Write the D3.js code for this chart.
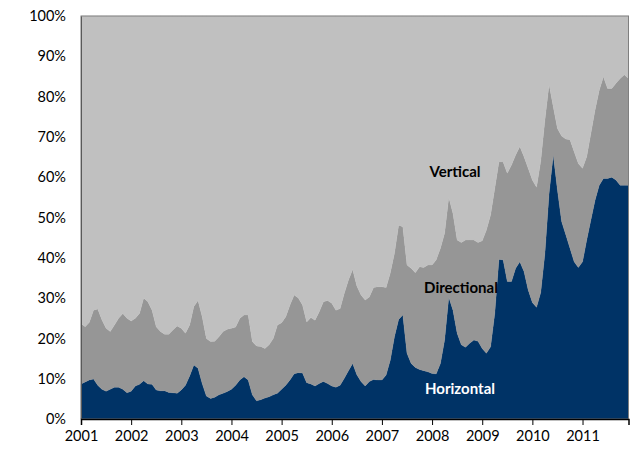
<!DOCTYPE html>
<html><head><meta charset="utf-8">
<script src="https://cdn.jsdelivr.net/npm/d3@7"></script>
<style>body{margin:0;background:#fff}svg{display:block}</style>
</head><body><svg id="c" width="632" height="455"></svg>
<script>
const years = ["2001","2002","2003","2004","2005","2006","2007","2008","2009","2010","2011"];
const seriesNames = ["Horizontal","Directional","Vertical"];
const yTicks = [0,0.1,0.2,0.3,0.4,0.5,0.6,0.7,0.8,0.9,1.0];
// monthly shares (%), Jan 2001 .. Dec 2011
const horizontal = [8.7,9.2,9.7,9.9,8.4,7.4,6.9,7.4,7.9,7.9,7.4,6.5,
6.9,8.2,8.6,9.5,8.7,8.6,7.2,7.0,7.0,6.6,6.5,6.4,
7.2,8.4,10.7,13.4,12.6,8.8,5.7,5.1,5.4,6.0,6.4,6.8,
7.4,8.4,9.7,10.5,9.7,6.0,4.5,4.8,5.2,5.5,6.0,6.4,
7.4,8.4,9.7,11.2,11.5,11.4,9.0,8.7,8.2,8.8,9.3,8.8,
8.2,7.9,8.4,10.1,12.0,13.8,11.0,9.3,8.2,9.3,9.8,9.7,
9.7,10.9,14.6,20.4,24.7,25.8,16.3,13.8,12.8,12.3,12.0,11.7,
11.3,11.2,13.8,19.6,30.2,27.0,21.3,18.4,17.8,18.8,19.6,19.3,
17.5,16.3,17.9,26.2,39.6,39.5,34.1,34.1,37.4,39.0,36.6,32.0,
28.9,27.7,31.4,41.1,56.0,65.5,56.8,49.0,45.7,42.4,39.0,37.6,
39.0,44.4,49.4,54.3,58.0,59.7,59.7,60.0,59.3,58.0,58.0,58.0];
const directional = [15.0,13.7,14.3,17.1,18.9,17.2,15.6,14.3,15.4,17.1,18.8,18.5,
17.4,16.8,17.6,20.5,20.4,18.4,15.7,14.7,14.0,14.4,15.6,16.7,
15.3,12.9,12.6,14.5,16.8,16.6,14.3,14.1,13.9,14.4,15.3,15.5,
15.1,14.4,15.3,15.3,16.1,13.2,13.6,13.2,12.3,12.9,14.0,16.9,
16.5,17.0,18.6,19.6,18.5,16.9,15.1,16.5,16.3,17.8,19.8,20.6,
20.5,19.1,19.0,21.1,22.5,23.3,22.0,21.5,21.3,21.0,22.8,23.1,
23.1,21.7,21.6,20.7,23.4,21.9,21.9,23.6,23.5,25.5,25.6,26.5,
26.9,28.3,28.6,26.5,24.8,24.0,23.1,25.4,26.6,25.6,24.8,24.5,
26.7,30.6,32.7,31.0,24.2,24.3,26.9,28.9,28.1,28.6,28.5,30.2,
30.4,29.8,32.6,33.1,27.0,12.0,15.3,21.2,23.8,26.9,27.3,25.8,
23.2,20.7,21.5,22.4,23.6,25.2,22.3,22.0,24.0,26.5,27.4,26.5];
const vertical = [76.3,77.1,76.0,73.0,72.7,75.4,77.5,78.3,76.7,75.0,73.8,75.0,
75.7,75.0,73.8,70.0,70.9,73.0,77.1,78.3,79.0,79.0,77.9,76.9,
77.5,78.7,76.7,72.1,70.6,74.6,80.0,80.8,80.7,79.6,78.3,77.7,
77.5,77.2,75.0,74.2,74.2,80.8,81.9,82.0,82.5,81.6,80.0,76.7,
76.1,74.6,71.7,69.2,70.0,71.7,75.9,74.8,75.5,73.4,70.9,70.6,
71.3,73.0,72.6,68.8,65.5,62.9,67.0,69.2,70.5,69.7,67.4,67.2,
67.2,67.4,63.8,58.9,51.9,52.3,61.8,62.6,63.7,62.2,62.4,61.8,
61.8,60.5,57.6,53.9,45.0,49.0,55.6,56.2,55.6,55.6,55.6,56.2,
55.8,53.1,49.4,42.8,36.2,36.2,39.0,37.0,34.5,32.4,34.9,37.8,
40.7,42.5,36.0,25.8,17.0,22.5,27.9,29.8,30.5,30.7,33.7,36.6,
37.8,34.9,29.1,23.3,18.4,15.1,18.0,18.0,16.7,15.5,14.6,15.5];
const colors = ["#003366","#969696","#C0C0C0"];

const table = horizontal.map((h,i)=>({i, Horizontal:h, Directional:directional[i], Vertical:vertical[i]}));
const stack = d3.stack().keys(seriesNames).offset(d3.stackOffsetExpand);
const layers = stack(table);

const svg = d3.select("#c");
const L=81, R=628.5, T=16, B=419;
const x = d3.scaleLinear().domain([0, horizontal.length-1]).range([L,R]);
const y = d3.scaleLinear().domain([0,1]).range([B,T]);

const area = d3.area().x(d=>x(d.data.i)).y0(d=>y(d[0])).y1(d=>y(d[1]));
svg.append("g").selectAll("path").data(layers).join("path")
  .attr("d", area).attr("fill",(d,k)=>colors[k]).attr("stroke",(d,k)=>colors[k]).attr("stroke-width",0.3);

// plot border
svg.append("rect").attr("x",L).attr("y",T).attr("width",R-L).attr("height",B-T)
  .attr("fill","none").attr("stroke","#7f7f7f").attr("stroke-width",1);

// y axis
const yAxis = d3.axisLeft(y).tickValues(yTicks).tickFormat(d3.format(".0%")).tickSize(0).tickPadding(15);
const gy = svg.append("g").attr("transform",`translate(${L},0)`).call(yAxis);
gy.select(".domain").attr("stroke","#595959");
gy.selectAll("text").attr("font-family","Lato, 'Open Sans', sans-serif").attr("font-size",14.5).attr("fill","#000");

// x axis
const xAxis = d3.axisBottom(x).tickValues(years.map((_,k)=>k*12)).tickFormat((d,k)=>years[k]).tickSize(6).tickPadding(6);
const gx = svg.append("g").attr("transform",`translate(0,${B})`).call(xAxis);
gx.select(".domain").attr("stroke","#000").attr("stroke-width",1.5);
gx.selectAll(".tick line").attr("stroke","#000");
gx.selectAll("text").attr("font-family","Lato, 'Open Sans', sans-serif").attr("font-size",14.5).attr("fill","#000");

// series labels
const lab = [
  {t:"Vertical", cx:455, cy:177, c:"#000"},
  {t:"Directional", cx:461, cy:293, c:"#000"},
  {t:"Horizontal", cx:460, cy:394, c:"#fff"}
];
svg.append("g").selectAll("text").data(lab).join("text")
  .attr("x",d=>d.cx).attr("y",d=>d.cy).attr("text-anchor","middle")
  .attr("font-family","Lato, 'Open Sans', sans-serif").attr("font-weight","bold").attr("font-size",15)
  .attr("fill",d=>d.c).text(d=>d.t);
</script></body></html>
